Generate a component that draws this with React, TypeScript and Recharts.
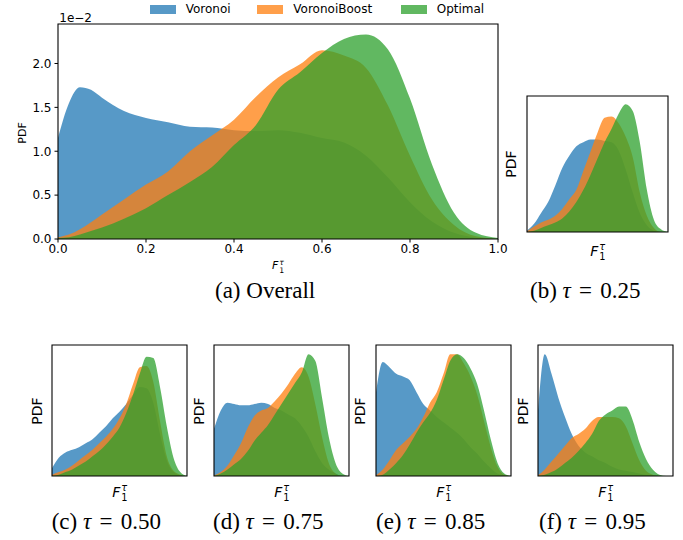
import { AreaChart, Area, XAxis, YAxis, ReferenceArea } from 'recharts';

const SERIES = [
  { key: 'voronoi', name: 'Voronoi', color: '#1f77b4' },
  { key: 'boost', name: 'VoronoiBoost', color: '#ff7f0e' },
  { key: 'optimal', name: 'Optimal', color: '#2ca02c' },
];

// (a) overall, PDF in units of 1e-2
const overallX = [0, 0.025, 0.05, 0.075, 0.1, 0.15, 0.2, 0.25, 0.3, 0.35, 0.4, 0.45, 0.5, 0.55, 0.6, 0.65, 0.7, 0.75, 0.8, 0.85, 0.9, 0.95, 1.0];
const overallVoronoi = [1.15, 1.55, 1.73, 1.7, 1.61, 1.46, 1.38, 1.33, 1.28, 1.27, 1.24, 1.23, 1.24, 1.21, 1.15, 1.1, 0.95, 0.7, 0.42, 0.2, 0.07, 0.015, 0];
const overallBoost = [0.02, 0.05, 0.11, 0.19, 0.28, 0.45, 0.62, 0.77, 1.0, 1.18, 1.36, 1.62, 1.84, 1.99, 2.15, 2.09, 1.95, 1.52, 0.95, 0.45, 0.16, 0.03, 0];
const overallOptimal = [0.01, 0.02, 0.05, 0.09, 0.13, 0.23, 0.35, 0.5, 0.65, 0.82, 1.07, 1.3, 1.7, 1.9, 2.12, 2.28, 2.33, 2.16, 1.6, 0.85, 0.3, 0.07, 0.01];
const overallXTicks = [0, 0.2, 0.4, 0.6, 0.8, 1.0];
const overallYTicks = [0, 0.5, 1.0, 1.5, 2.0];

// small panels, relative height
const smallX = [0, 0.05, 0.1, 0.15, 0.2, 0.25, 0.3, 0.35, 0.4, 0.45, 0.5, 0.55, 0.6, 0.65, 0.7, 0.75, 0.8, 0.85, 0.9, 0.95, 1.0];

const t25Voronoi = [0.01, 0.06, 0.14, 0.22, 0.34, 0.47, 0.56, 0.63, 0.66, 0.68, 0.68, 0.67, 0.66, 0.6, 0.46, 0.29, 0.14, 0.05, 0.01, 0, 0];
const t25Boost = [0.005, 0.04, 0.07, 0.09, 0.12, 0.17, 0.24, 0.31, 0.45, 0.59, 0.73, 0.84, 0.85, 0.8, 0.7, 0.55, 0.29, 0.12, 0.03, 0, 0];
const t25Optimal = [0, 0.01, 0.03, 0.05, 0.07, 0.1, 0.15, 0.22, 0.31, 0.42, 0.54, 0.66, 0.76, 0.87, 0.94, 0.89, 0.66, 0.31, 0.09, 0.02, 0];

const t50Voronoi = [0.06, 0.14, 0.18, 0.2, 0.22, 0.25, 0.28, 0.33, 0.38, 0.44, 0.49, 0.55, 0.62, 0.68, 0.67, 0.56, 0.32, 0.12, 0.03, 0.005, 0];
const t50Boost = [0.01, 0.03, 0.05, 0.08, 0.12, 0.16, 0.2, 0.25, 0.3, 0.36, 0.44, 0.55, 0.7, 0.83, 0.84, 0.72, 0.42, 0.15, 0.04, 0.01, 0];
const t50Optimal = [0, 0.01, 0.03, 0.05, 0.08, 0.11, 0.15, 0.19, 0.24, 0.3, 0.37, 0.48, 0.62, 0.78, 0.91, 0.9, 0.68, 0.38, 0.14, 0.03, 0];

const t75Voronoi = [0.36, 0.5, 0.56, 0.55, 0.54, 0.54, 0.55, 0.56, 0.55, 0.52, 0.5, 0.47, 0.44, 0.38, 0.3, 0.19, 0.1, 0.05, 0.02, 0, 0];
const t75Boost = [0.005, 0.03, 0.08, 0.16, 0.25, 0.37, 0.46, 0.5, 0.52, 0.57, 0.63, 0.7, 0.78, 0.83, 0.76, 0.55, 0.3, 0.1, 0.02, 0, 0];
const t75Optimal = [0, 0.02, 0.05, 0.09, 0.13, 0.19, 0.27, 0.33, 0.39, 0.47, 0.55, 0.63, 0.71, 0.79, 0.93, 0.88, 0.6, 0.3, 0.1, 0.02, 0];

const t85Voronoi = [0.64, 0.87, 0.83, 0.78, 0.76, 0.73, 0.64, 0.55, 0.5, 0.45, 0.41, 0.37, 0.33, 0.28, 0.22, 0.17, 0.11, 0.06, 0.02, 0.005, 0];
const t85Boost = [0.005, 0.05, 0.12, 0.2, 0.25, 0.3, 0.36, 0.45, 0.56, 0.64, 0.78, 0.93, 0.93, 0.86, 0.76, 0.62, 0.42, 0.22, 0.07, 0.01, 0];
const t85Optimal = [0, 0.01, 0.05, 0.1, 0.16, 0.24, 0.33, 0.41, 0.48, 0.58, 0.73, 0.88, 0.93, 0.9, 0.82, 0.7, 0.5, 0.28, 0.1, 0.02, 0];

const t95Voronoi = [0.5, 0.93, 0.78, 0.6, 0.45, 0.32, 0.23, 0.18, 0.15, 0.12, 0.1, 0.07, 0.05, 0.04, 0.03, 0.02, 0.01, 0.005, 0, 0, 0];
const t95Boost = [0.005, 0.05, 0.11, 0.17, 0.23, 0.29, 0.32, 0.36, 0.42, 0.45, 0.45, 0.45, 0.44, 0.38, 0.25, 0.12, 0.04, 0.01, 0, 0, 0];
const t95Optimal = [0, 0.01, 0.03, 0.06, 0.1, 0.14, 0.19, 0.25, 0.32, 0.42, 0.47, 0.5, 0.53, 0.53, 0.43, 0.26, 0.13, 0.05, 0.01, 0, 0];

const makeRows = (xs: number[], v: number[], b: number[], o: number[]) =>
  xs.map((x, i) => ({ x, voronoi: v[i], boost: b[i], optimal: o[i] }));

const overallRows = makeRows(overallX, overallVoronoi, overallBoost, overallOptimal);

const smallPanels = [
  { left: 527.3, top: 96, w: 141, h: 136, rows: makeRows(smallX, t25Voronoi, t25Boost, t25Optimal), pdfX: 511, fTop: 244, caption: '(b)', tau: '0.25', capLeft: 530, capBase: 298.5 },
  { left: 52.3, top: 345.3, w: 135, h: 131, rows: makeRows(smallX, t50Voronoi, t50Boost, t50Optimal), pdfX: 36.7, fTop: 485, caption: '(c)', tau: '0.50', capLeft: 51.7, capBase: 529 },
  { left: 214.3, top: 345.3, w: 135, h: 131, rows: makeRows(smallX, t75Voronoi, t75Boost, t75Optimal), pdfX: 199, fTop: 485, caption: '(d)', tau: '0.75', capLeft: 213, capBase: 529 },
  { left: 376.3, top: 345.3, w: 135, h: 131, rows: makeRows(smallX, t85Voronoi, t85Boost, t85Optimal), pdfX: 360, fTop: 485, caption: '(e)', tau: '0.85', capLeft: 376, capBase: 529 },
  { left: 538.3, top: 345.3, w: 135, h: 131, rows: makeRows(smallX, t95Voronoi, t95Boost, t95Optimal), pdfX: 522.5, fTop: 485, caption: '(f)', tau: '0.95', capLeft: 539, capBase: 529 },
];

const sans = "'DejaVu Sans', sans-serif";
const serif = "'Liberation Serif', 'Times New Roman', serif";

function areas() {
  return SERIES.map((s) => (
    <Area
      key={s.key}
      type="monotone"
      dataKey={s.key}
      name={s.name}
      fill={s.color}
      fillOpacity={0.75}
      stroke="none"
      isAnimationActive={false}
      dot={false}
      activeDot={false}
    />
  ));
}

function FLabel({ cx, top, size }: { cx: number; top: number; size: number }) {
  return (
    <div style={{ position: 'absolute', left: cx, top, transform: 'translateX(-50%)', fontFamily: sans, fontSize: size, lineHeight: 1, display: 'flex', alignItems: 'flex-start', whiteSpace: 'nowrap' }}>
      <span style={{ fontStyle: 'italic' }}>F</span>
      <span style={{ display: 'inline-flex', flexDirection: 'column', fontSize: size * 0.7, lineHeight: 1, marginLeft: 1 }}>
        <span style={{ fontStyle: 'italic', marginTop: -size * 0.12 }}>τ</span>
        <span style={{ marginTop: size * 0.02 }}>1</span>
      </span>
    </div>
  );
}

function PdfLabel({ cx, cy, size }: { cx: number; cy: number; size: number }) {
  return (
    <div style={{ position: 'absolute', left: cx, top: cy, transform: 'translate(-50%, -50%) rotate(-90deg)', fontFamily: sans, fontSize: size, lineHeight: 1, whiteSpace: 'nowrap' }}>
      PDF
    </div>
  );
}

function Caption({ left, base, children }: { left: number; base: number; children: React.ReactNode }) {
  return (
    <div style={{ position: 'absolute', left, top: base - 19.3, fontFamily: serif, fontSize: 23, lineHeight: 1, whiteSpace: 'nowrap' }}>
      {children}
    </div>
  );
}

const legendPos = [
  { sw: 150, tx: 185.7 },
  { sw: 256.7, tx: 293.3 },
  { sw: 401, tx: 436.7 },
];

export default function App() {
  return (
    <div style={{ position: 'absolute', left: 0, top: 0, width: 683, height: 540, background: '#fff', color: '#000' }}>
      {/* legend */}
      {SERIES.map((s, i) => (
        <div key={s.key}>
          <div style={{ position: 'absolute', left: legendPos[i].sw, top: 5, width: 26, height: 8.5, background: s.color, opacity: 0.75 }} />
          <div style={{ position: 'absolute', left: legendPos[i].tx, top: 3, fontFamily: sans, fontSize: 12, lineHeight: 1 }}>{s.name}</div>
        </div>
      ))}

      {/* (a) overall */}
      <div style={{ position: 'absolute', left: 0, top: 0 }}>
        <AreaChart width={510} height={260} data={overallRows} margin={{ top: 24, right: 12, bottom: 0, left: 8 }}>
          <XAxis
            dataKey="x"
            type="number"
            domain={[0, 1]}
            ticks={overallXTicks}
            tickFormatter={(v: number) => v.toFixed(1)}
            height={21}
            axisLine={false}
            tickLine={{ stroke: '#000' }}
            tickSize={3.5}
            tickMargin={2}
            tick={{ fill: '#000', fontSize: 12, fontFamily: sans }}
            interval={0}
          />
          <YAxis
            type="number"
            domain={[0, 2.45]}
            ticks={overallYTicks}
            tickFormatter={(v: number) => v.toFixed(1)}
            width={50}
            axisLine={false}
            tickLine={{ stroke: '#000' }}
            tickSize={3.5}
            tickMargin={3}
            tick={{ fill: '#000', fontSize: 12, fontFamily: sans }}
            interval={0}
          />
          {areas()}
          <ReferenceArea x1={0} x2={1} y1={0} y2={2.45} fill="none" stroke="#000" strokeWidth={1.1} />
        </AreaChart>
      </div>
      <div style={{ position: 'absolute', left: 59.3, top: 12.3, fontFamily: sans, fontSize: 12, lineHeight: 1 }}>1e−2</div>
      <PdfLabel cx={22} cy={133} size={11} />
      <FLabel cx={278} top={260} size={11} />
      <Caption left={215} base={298.5}>(a) Overall</Caption>

      {/* (b)-(f) */}
      {smallPanels.map((p) => (
        <div key={p.caption}>
          <div style={{ position: 'absolute', left: p.left - 1, top: p.top - 1 }}>
            <AreaChart width={p.w + 2} height={p.h + 2} data={p.rows} margin={{ top: 1, right: 1, bottom: 1, left: 1 }}>
              <XAxis dataKey="x" type="number" domain={[0, 1]} hide />
              <YAxis type="number" domain={[0, 1]} hide />
              {areas()}
              <ReferenceArea x1={0} x2={1} y1={0} y2={1} fill="none" stroke="#000" strokeWidth={1.1} />
            </AreaChart>
          </div>
          <PdfLabel cx={p.pdfX} cy={p.top + p.h / 2} size={14} />
          <FLabel cx={p.left + p.w / 2} top={p.fTop} size={14} />
          <Caption left={p.capLeft} base={p.capBase}>
            {p.caption} <i>τ</i>
            <span style={{ margin: '0 2.5px' }}> = </span>
            {p.tau}
          </Caption>
        </div>
      ))}
    </div>
  );
}
